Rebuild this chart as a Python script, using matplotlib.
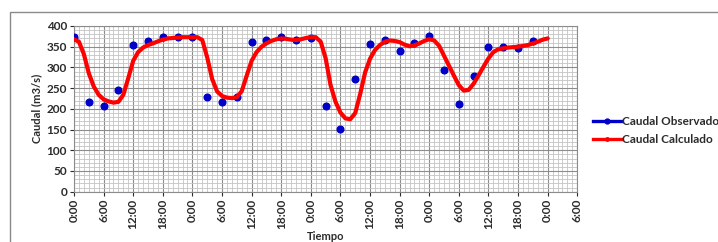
import matplotlib.pyplot as plt
from matplotlib.lines import Line2D
from matplotlib.patches import Rectangle
from matplotlib.ticker import MultipleLocator

plt.rcParams['font.family'] = ['Lato', 'DejaVu Sans']

# Caudal observado (cada 3 horas)
obs_horas = [0, 3, 6, 9, 12, 15, 18, 21, 24, 27, 30, 33, 36, 39, 42, 45,
             48, 51, 54, 57, 60, 63, 66, 69, 72, 75, 78, 81, 84, 87, 90, 93]
obs_caudal = [373, 217, 208, 245, 353, 363, 373, 373, 373, 229, 217, 228, 362, 366, 374, 365,
              372, 208, 151, 273, 357, 366, 340, 358, 376, 293, 212, 280, 349, 350, 348, 363]

# Caudal calculado (horario)
calc_horas = list(range(0, 97))
calc_caudal = [368, 362, 332, 286, 254, 234, 223, 218, 215, 217, 234, 274, 316, 337, 348, 354,
               358, 363, 367, 370, 371, 372, 373, 373, 373, 373, 366, 324, 272, 242, 231, 227,
               226, 228, 243, 280, 316, 337, 350, 358, 364, 368, 370, 369, 367, 366, 368, 371,
               373, 373, 362, 322, 257, 217, 191, 177, 175, 190, 236, 288, 321, 342, 354, 362,
               365, 364, 361, 355, 351, 353, 358, 364, 368, 365, 352, 328, 304, 280, 257, 244,
               246, 261, 281, 302, 322, 337, 344, 346, 348, 349, 350, 352, 354, 358, 362, 367, 370]

tick_horas = list(range(0, 103, 6))
tick_labels = [f"{h % 24}:00" for h in tick_horas]

azul = '#0000C8'
rojo = '#FF0000'

fig = plt.figure(figsize=(7.18, 2.42), dpi=100)
ax = fig.add_axes([74/718, 1-191.7/242, (577.3-74)/718, (191.7-26)/242])

# marco del grafico (estilo Excel)
fig.patches.append(Rectangle((10/718, -0.2), 1.2, 1.2 - 12.3/242, transform=fig.transFigure,
                             fill=False, edgecolor='#8a8a8a', lw=1.0, clip_on=False))

ax.plot(obs_horas, obs_caudal, 'o', color=azul, ms=4.8, zorder=3)
ax.plot(calc_horas, calc_caudal, '-', color=rojo, lw=3.0, zorder=4,
        solid_capstyle='round', solid_joinstyle='round')

ax.set_xlim(0, 102)
ax.set_ylim(0, 400)
ax.set_xticks(tick_horas)
ax.set_xticklabels(tick_labels, rotation=90, fontsize=8.5, fontweight='bold', color='#2b2b2b')
ax.xaxis.set_minor_locator(MultipleLocator(1))
ax.yaxis.set_major_locator(MultipleLocator(50))
ax.yaxis.set_minor_locator(MultipleLocator(10))
ax.tick_params(axis='y', labelsize=8.5, colors='#2b2b2b', length=3, pad=2)
ax.tick_params(axis='x', colors='#2b2b2b', length=3, pad=2)
ax.tick_params(which='minor', length=0)
for lab in ax.get_yticklabels():
    lab.set_fontweight('bold')

ax.grid(True, which='major', color='#8c8c8c', lw=0.8)
ax.grid(True, which='minor', color='#c4c4c4', lw=0.6)
ax.set_axisbelow(True)
for s in ax.spines.values():
    s.set_color('#8c8c8c')
    s.set_linewidth(0.8)

ax.set_ylabel('Caudal (m3/s)', fontsize=8, fontweight='bold', color='#2b2b2b', labelpad=3)
fig.text((74+577.3)/2/718, 1-231.5/242, 'Tiempo', ha='center', va='top',
         fontsize=8, fontweight='bold', color='#2b2b2b')

handles = [Line2D([], [], color=azul, lw=2.4, marker='o', ms=3.5),
           Line2D([], [], color=rojo, lw=2.4, marker='o', ms=2.5)]
fig.legend(handles, ['Caudal Observado', 'Caudal Calculado'], loc='center left',
           bbox_to_anchor=(588/718, 1-130.5/242), frameon=False, handlelength=2.4,
           handletextpad=0.1, labelspacing=0.6, borderaxespad=0,
           prop={'size': 8.5, 'weight': 'bold'}, labelcolor='#2b2b2b')

fig.savefig('out.png', dpi=100)
